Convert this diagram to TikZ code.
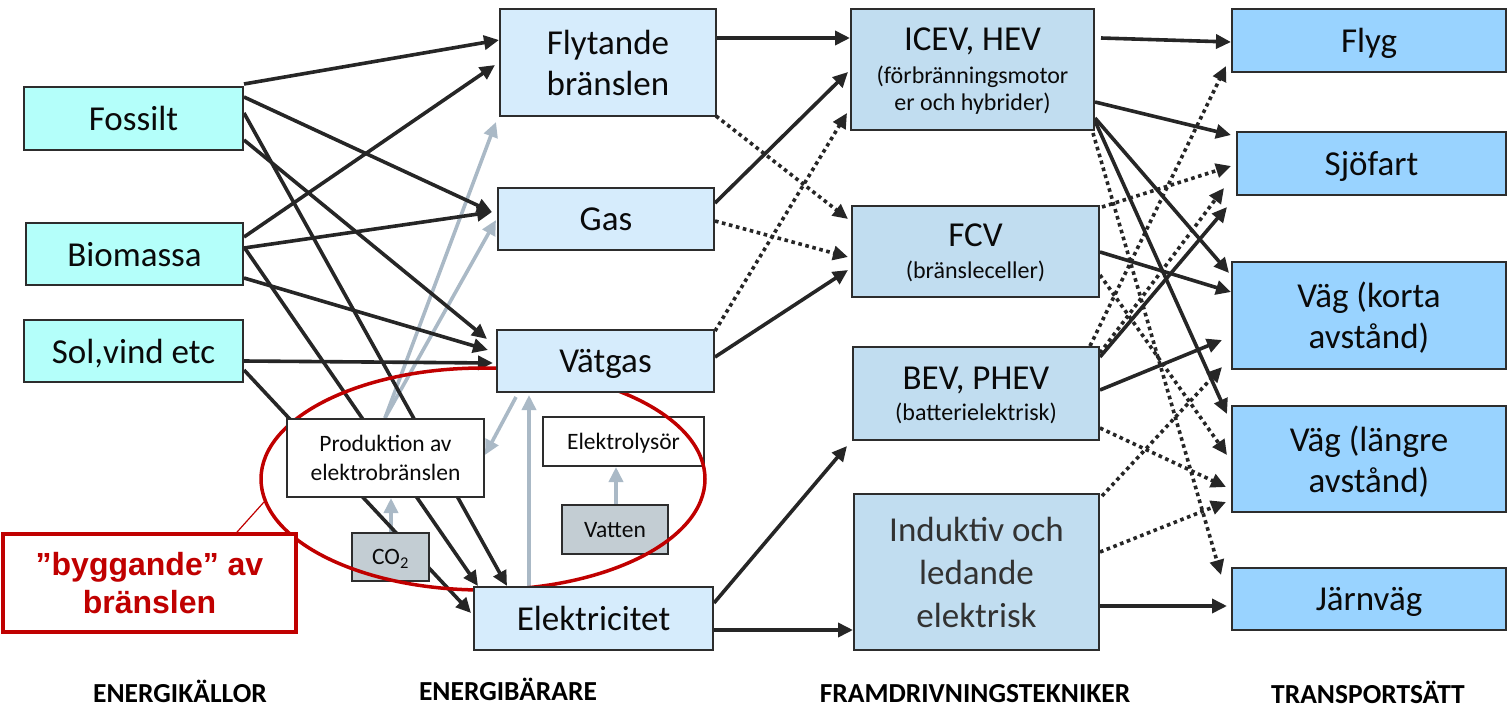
\documentclass[tikz,border=0pt]{standalone}
\usepackage{fontspec}
\setmainfont{Carlito}
\newfontfamily\arialfont{Liberation Sans}
\usetikzlibrary{arrows.meta,calc,shapes.geometric}
\pgfdeclarelayer{bg}
\pgfdeclarelayer{low}
\pgfdeclarelayer{mid}
\pgfsetlayers{bg,low,mid,main}
\definecolor{srcfill}{RGB}{180,255,250}
\definecolor{carfill}{RGB}{214,236,252}
\definecolor{profill}{RGB}{193,221,240}
\definecolor{trfill}{RGB}{153,211,255}
\definecolor{grayfill}{RGB}{195,205,211}
\definecolor{grayarrow}{RGB}{170,185,198}
\definecolor{darkred}{RGB}{192,0,0}
\definecolor{linecol}{RGB}{38,38,38}
\definecolor{boxline}{RGB}{45,45,45}
\definecolor{txt}{RGB}{10,10,10}
\definecolor{txtgray}{RGB}{50,50,50}
\newcommand\bigtxt{\fontsize{35}{41}\selectfont}
\newcommand\subtxt{\fontsize{24}{28}\selectfont}
\newcommand\smalltxt{\fontsize{23.5}{29}\selectfont}
\begin{document}
\begin{tikzpicture}[x=1pt,y=-1pt,
  sz/.style 2 args={minimum width=#1pt, minimum height=#2pt},
  box/.style={draw=boxline, line width=2pt, inner sep=0pt, align=center, text=txt, font=\bigtxt, text depth=0pt},
  src/.style={box, fill=srcfill},
  car/.style={box, fill=carfill},
  pro/.style={box, fill=profill},
  tra/.style={box, fill=trfill},
  small/.style={box, fill=white, font=\smalltxt},
  sgray/.style={box, fill=grayfill, font=\smalltxt},
  head/.style={font=\bfseries\fontsize{27.5}{32}\selectfont, anchor=base, text=black, inner sep=0pt},
  flow/.style={draw=linecol, line width=3.6pt, -{Triangle[length=15pt,width=14pt]}},
  dflow/.style={flow, dash pattern=on 3.6pt off 3.6pt},
  gflow/.style={draw=grayarrow, line width=3.6pt, -{Triangle[length=15pt,width=14pt]}},
]
\useasboundingbox (0,0) rectangle (1508,713);

% energy sources
\node[src, sz={219}{63}] (fos) at (133.5,118.5) {Fossilt};
\node[src, sz={217}{62}] (bio) at (134.5,254) {Biomassa};
\node[src, sz={219}{62}] (sol) at (133.5,351) {Sol,vind etc};
% energy carriers
\node[car, sz={216}{107}] (flyt) at (608,62.5) {Flytande\\bränslen};
\node[car, sz={216}{62}] (gas) at (606,219) {Gas};
\node[car, sz={217}{62}] (vat) at (605.5,361) {Vätgas};
\node[car, sz={239}{63}] (el) at (593.5,618.5) {Elektricitet};
% propulsion
\node[pro, sz={243}{121}] (icev) at (972.5,69.5) {ICEV, HEV\\[-8pt]\subtxt (förbränningsmotor\\[-14pt]\subtxt er och hybrider)};
\node[pro, sz={247}{91}] (fcv) at (975.5,251.5) {FCV\\[-9pt]\subtxt (bränsleceller)};
\node[pro, sz={246}{93}] (bev) at (976,393.5) {BEV, PHEV\\[-10pt]\subtxt (batterielektrisk)};
\node[pro, sz={245}{156}, text=txtgray] (ind) at (976.5,572) {Induktiv och\\[2pt]ledande\\[2pt]elektrisk};
% transport modes
\node[tra, sz={274}{63}] (flyg) at (1369,40.5) {Flyg};
\node[tra, sz={269}{63}] (sjo) at (1371.5,163.5) {Sjöfart};
\node[tra, sz={274}{107}] (vagk) at (1369,315.5) {Väg (korta\\avstånd)};
\node[tra, sz={274}{106}] (vagl) at (1369,459) {Väg (längre\\avstånd)};
\node[tra, sz={274}{62}] (jarn) at (1369,599) {Järnväg};
% electrofuel production
\node[small, sz={197}{78}] (prod) at (385.5,458) {Produktion av\\elektrobränslen};
\begin{pgfonlayer}{low}
\node[small, sz={161}{49}] (elys) at (623.5,441.5) {Elektrolysör};
\node[sgray, sz={106}{49}] (vatten) at (615,529.5) {Vatten};
\node[sgray, sz={77}{48}] (co2) at (390.5,557) {CO\textsubscript{2}};
\end{pgfonlayer}
\begin{pgfonlayer}{mid}
\node[draw=darkred, line width=3.5pt, ellipse, inner sep=0pt, minimum width=444pt, minimum height=222pt] (ell) at (483,479) {};
\end{pgfonlayer}
% red callout
\node[draw=darkred, line width=3.8pt, fill=white, sz={293}{98}, inner sep=0pt, align=center, text=darkred,
      font=\arialfont\bfseries\fontsize{32}{38}\selectfont] (redbox) at (149.5,583) {”byggande” av\\bränslen};
\draw[darkred, line width=1.2pt] (redbox.north -| 237,0) -- (ell.186);

% headers
\node[head] (h1) at (180,702) {ENERGIKÄLLOR};
\node[head] (h2) at (508,700) {ENERGIBÄRARE};
\node[head] (h3) at (975,702) {FRAMDRIVNINGSTEKNIKER};
\node[head] (h4) at (1368,703) {TRANSPORTSÄTT};

\begin{pgfonlayer}{bg}
% grey arrows
\draw[gflow] (prod.north -| 385,0) -- ($(flyt.south west)+(-3,5)$);
\draw[gflow] (prod.north -| 385,0) -- ($(gas.west |- 0,220)+(-1,0)$);
\draw[gflow] ($(vat.south west)+(20,4)$) -- (prod.east |- 0,455);
\draw[gflow] (el.north -| 529,0) -- ($(vat.south -| 529,0)+(0,2)$);
\draw[gflow] (vatten.north -| 616,0) -- (elys.south -| 616,0);
\draw[gflow] (co2.north -| 391,0) -- (prod.south -| 391,0);
% sources -> carriers
\draw[flow] (fos.east |- 0,84) -- (flyt.west |- 0,40);
\draw[flow] (fos.east |- 0,97) -- ($(gas.west |- 0,212)+(-5,0)$);
\draw[flow] (fos.east |- 0,140) -- ($(vat.west |- 0,339)+(-9,0)$);
\draw[flow] (fos.east |- 0,113) -- (el.north -| 507,0);
\draw[flow] (bio.east |- 0,237) -- ($(flyt.west |- 0,65)+(-4,0)$);
\draw[flow] (bio.east |- 0,248) -- ($(gas.west |- 0,212)+(-5,0)$);
\draw[flow] (bio.east |- 0,278) -- ($(vat.west |- 0,350)+(-8,0)$);
\draw[flow] (bio.east |- 0,247) -- (el.north -| 478,0);
\draw[flow] (sol.east |- 0,361) -- ($(vat.west |- 0,363)+(-3,0)$);
\draw[flow] (sol.east |- 0,370) -- ($(el.west |- 0,613)+(-2,0)$);
% carriers -> propulsion
\draw[flow] (flyt.east |- 0,38) -- (icev.west |- 0,38);
\draw[dflow] ($(flyt.south east)+(-1,-1)$) -- ($(fcv.west |- 0,219)+(-3,0)$);
\draw[flow] (gas.east |- 0,203) -- ($(icev.west |- 0,72)+(-2,0)$);
\draw[dflow] (gas.east |- 0,221) -- ($(fcv.west |- 0,257)+(-3,0)$);
\draw[dflow] (vat.east |- 0,331) -- ($(icev.west |- 0,113)+(-3,0)$);
\draw[flow] (vat.east |- 0,357) -- ($(fcv.west |- 0,270)+(-3,0)$);
\draw[flow] (el.east |- 0,603) -- ($(bev.south west)+(-5,5)$);
\draw[flow] (el.east |- 0,630) -- (ind.west |- 0,630);
% propulsion -> transport
\draw[flow] ($(icev.east |- 0,38)+(6,0)$) -- (flyg.west |- 0,42);
\draw[flow] (icev.east |- 0,102) -- ($(sjo.west |- 0,135)+(-5,0)$);
\draw[flow] (icev.east |- 0,118) -- ($(vagk.west |- 0,273)+(-2,0)$);
\draw[flow] (icev.east |- 0,121) -- ($(vagl.west |- 0,414)+(-4,0)$);
\draw[dflow] ($(icev.south east)+(-2,2)$) -- ($(jarn.north west)+(-10,8)$);
\draw[dflow] ($(fcv.north east)+(2,2)$) -- ($(sjo.west |- 0,166)+(-5,0)$);
\draw[flow] (fcv.east |- 0,252) -- (vagk.west |- 0,292);
\draw[dflow] (fcv.east |- 0,275) -- ($(vagl.west |- 0,455)+(-4,0)$);
\draw[dflow] (bev.north -| 1090,0) -- ($(flyg.south west)+(-5,-7)$);
\draw[dflow] (bev.east |- 0,353) -- ($(sjo.south west)+(-12,-8)$);
\draw[flow] (bev.east |- 0,357) -- ($(sjo.south west)+(-9,11)$);
\draw[flow] (bev.east |- 0,390) -- ($(vagk.west |- 0,340)+(-9,0)$);
\draw[dflow] (bev.east |- 0,428) -- ($(vagl.west |- 0,487)+(-5,0)$);
\draw[dflow] ($(ind.north east)+(2,3)$) -- ($(vagk.south west)+(-9,-3)$);
\draw[dflow] (ind.east |- 0,552) -- ($(vagl.west |- 0,502)+(-5,0)$);
\draw[flow] (ind.east |- 0,606) -- ($(jarn.west |- 0,606)+(-4,0)$);
\end{pgfonlayer}
\end{tikzpicture}
\end{document}
